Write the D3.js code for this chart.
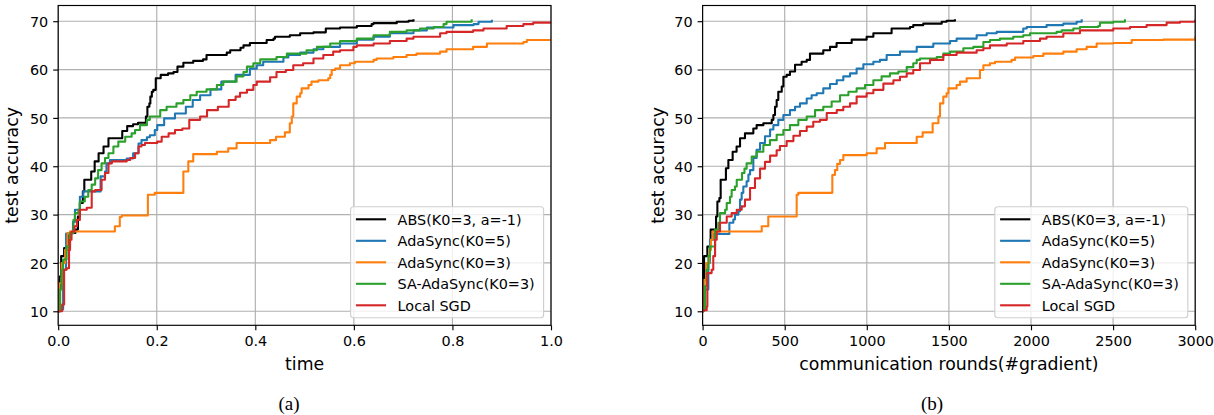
<!DOCTYPE html>
<html><head><meta charset="utf-8">
<script src="https://cdn.jsdelivr.net/npm/d3@7"></script>
<style>body{margin:0;background:#fff}svg{display:block}</style>
</head><body><svg id="c" width="1214" height="415" font-family="DejaVu Sans"></svg>
<script>
// ---------- data ----------
const seriesNames = ["ABS(K0=3, a=-1)","AdaSync(K0=5)","AdaSync(K0=3)","SA-AdaSync(K0=3)","Local SGD"];
const seriesColors = ["#000000","#1f77b4","#ff7f0e","#2ca02c","#d62728"];
const yTicks = [10,20,30,40,50,60,70];
const timeTicks = [0,0.2,0.4,0.6,0.8,1.0];
const roundTicks = [0,500,1000,1500,2000,2500,3000];

// (a) test accuracy vs time
const timeABS = [[0,10],[0.003,17.2],[0.006,21.4],[0.012,23.1],[0.02,26.2],[0.035,26.9],[0.04,29.6],[0.044,32.4],[0.05,34.8],[0.053,37.2],[0.067,38.9],[0.074,41.0],[0.082,42.7],[0.092,44.1],[0.102,45.8],[0.13,47.3],[0.14,48.3],[0.152,48.7],[0.162,49.0],[0.178,50.3],[0.181,52.3],[0.185,53.0],[0.187,54.4],[0.19,55.4],[0.193,55.8],[0.198,58.2],[0.208,58.9],[0.223,59.2],[0.234,59.5],[0.242,60.6],[0.254,61.4],[0.274,61.8],[0.294,62.1],[0.301,63.0],[0.342,63.5],[0.349,64.0],[0.37,64.5],[0.376,65.0],[0.389,65.5],[0.423,66.1],[0.437,66.4],[0.44,66.8],[0.47,67.1],[0.491,67.5],[0.518,67.7],[0.543,68.5],[0.572,68.7],[0.606,69.0],[0.636,69.4],[0.64,69.6],[0.687,69.9],[0.711,70.1],[0.721,70.2]];
const timeAda5 = [[0,10],[0.004,10.4],[0.01,18.6],[0.016,26.1],[0.03,28.5],[0.034,31.0],[0.044,33.7],[0.051,34.8],[0.086,37.9],[0.095,38.9],[0.098,40.6],[0.105,41.3],[0.139,41.6],[0.152,42.7],[0.163,44.7],[0.169,45.4],[0.18,46.0],[0.186,46.4],[0.196,47.5],[0.201,48.5],[0.215,49.9],[0.237,50.9],[0.259,52.3],[0.273,53.7],[0.288,54.7],[0.309,55.9],[0.331,57.5],[0.36,58.9],[0.389,60.2],[0.403,60.9],[0.416,61.6],[0.457,62.5],[0.467,63.0],[0.491,63.5],[0.518,64.2],[0.538,64.7],[0.572,65.4],[0.606,66.2],[0.64,66.8],[0.673,67.5],[0.721,68.1],[0.748,68.7],[0.802,69.2],[0.843,69.4],[0.853,69.9],[0.88,70.1]];
const timeAda3 = [[0,10],[0.002,15.8],[0.007,20.0],[0.014,22.7],[0.019,26.2],[0.024,26.5],[0.115,27.6],[0.125,29.5],[0.129,29.8],[0.182,34.1],[0.196,34.5],[0.254,38.9],[0.264,41.0],[0.274,42.5],[0.322,43.0],[0.345,43.7],[0.362,44.8],[0.43,45.4],[0.442,46.1],[0.46,47.0],[0.47,48.9],[0.474,50.3],[0.477,53.0],[0.484,54.4],[0.491,55.1],[0.494,56.1],[0.508,56.8],[0.514,57.5],[0.528,57.8],[0.548,58.2],[0.552,58.9],[0.555,59.9],[0.562,60.2],[0.572,60.9],[0.592,61.3],[0.602,61.6],[0.64,62.0],[0.646,62.3],[0.68,62.6],[0.707,63.0],[0.727,63.3],[0.775,63.7],[0.788,64.2],[0.842,64.7],[0.87,65.4],[0.944,65.7],[0.951,66.1],[1.0,66.2]];
const timeSA = [[0,10],[0.004,14.5],[0.007,18.6],[0.010,20.7],[0.017,23.4],[0.024,26.2],[0.031,28.9],[0.034,30.3],[0.041,31.0],[0.044,32.7],[0.054,33.7],[0.061,35.1],[0.068,36.2],[0.075,37.5],[0.081,39.2],[0.088,40.6],[0.095,41.7],[0.102,42.7],[0.112,44.1],[0.122,45.1],[0.136,46.1],[0.149,46.8],[0.156,47.5],[0.166,48.5],[0.18,49.6],[0.186,50.3],[0.207,51.6],[0.22,52.3],[0.24,53.0],[0.254,53.7],[0.268,54.7],[0.281,55.4],[0.301,55.9],[0.322,56.8],[0.335,57.5],[0.362,58.6],[0.376,59.5],[0.383,60.6],[0.396,61.3],[0.41,62.1],[0.443,62.6],[0.464,63.3],[0.504,64.0],[0.525,64.7],[0.552,65.4],[0.572,65.9],[0.606,66.4],[0.64,67.1],[0.673,67.8],[0.707,68.1],[0.734,68.5],[0.762,68.8],[0.782,69.4],[0.788,69.9],[0.839,70.2]];
const timeLocal = [[0,10],[0.004,10.0],[0.008,11.4],[0.012,18.6],[0.017,18.9],[0.022,22.7],[0.024,24.8],[0.027,26.5],[0.033,27.6],[0.038,28.9],[0.044,31.0],[0.058,31.4],[0.068,34.8],[0.075,35.1],[0.088,37.2],[0.095,38.6],[0.102,40.6],[0.109,41.0],[0.139,41.3],[0.146,41.7],[0.156,42.7],[0.163,44.1],[0.169,44.4],[0.176,44.8],[0.201,45.1],[0.21,46.1],[0.224,46.8],[0.237,47.5],[0.252,47.8],[0.266,49.6],[0.288,50.3],[0.302,51.6],[0.324,52.3],[0.346,53.7],[0.36,54.4],[0.369,55.2],[0.383,55.8],[0.396,56.8],[0.403,57.5],[0.43,58.4],[0.443,59.5],[0.462,59.9],[0.477,60.9],[0.497,61.3],[0.518,62.3],[0.538,63.0],[0.558,63.7],[0.572,64.0],[0.599,64.7],[0.606,65.0],[0.64,65.4],[0.673,65.9],[0.707,66.4],[0.721,66.8],[0.775,67.5],[0.788,67.8],[0.842,68.1],[0.863,68.5],[0.91,69.0],[0.944,69.4],[0.964,69.7],[1.0,69.8]];

// (b) test accuracy vs communication rounds
const roundABS = [[0,10],[5,10.5],[9,21.4],[29,23.4],[49,26.9],[82,29.6],[90,32.7],[102,33.4],[110,37.2],[142,39.6],[157,41.3],[183,43.0],[207,44.1],[228,45.8],[258,46.8],[309,47.8],[329,48.5],[370,48.9],[421,49.6],[431,50.6],[441,52.3],[451,53.7],[461,55.4],[482,56.5],[492,58.5],[512,58.9],[532,59.6],[563,61.0],[603,61.6],[634,62.0],[654,63.3],[735,64.0],[776,64.7],[816,65.5],[908,66.2],[999,66.8],[1040,67.5],[1151,68.5],[1263,68.8],[1283,69.2],[1344,69.5],[1456,69.9],[1486,70.1],[1537,70.2]];
const roundAda5 = [[0,10],[5,10.5],[15,14.5],[35,20.0],[45,24.8],[65,26.0],[163,28.3],[187,29.0],[197,30.0],[218,30.7],[228,33.1],[238,34.5],[248,35.8],[268,36.9],[279,38.3],[289,39.2],[309,41.7],[329,43.4],[350,44.8],[380,46.2],[411,47.6],[431,48.5],[461,49.6],[492,50.6],[532,51.6],[563,52.3],[593,53.0],[634,54.0],[664,54.7],[695,55.1],[735,56.1],[776,57.0],[817,57.8],[857,58.6],[898,59.2],[938,60.2],[979,61.1],[1040,61.6],[1080,62.0],[1121,63.0],[1202,63.7],[1304,64.7],[1405,65.4],[1507,65.9],[1547,66.4],[1669,67.1],[1730,67.5],[1791,67.8],[1953,68.5],[1974,68.8],[2095,69.2],[2197,69.5],[2278,69.9],[2309,70.2]];
const roundAda3 = [[0,10],[5,10.5],[11,16.5],[21,20.0],[41,22.7],[51,24.8],[61,26.5],[360,27.6],[400,29.6],[573,34.1],[583,34.5],[790,38.2],[806,39.2],[820,40.5],[837,41.3],[857,42.3],[999,42.7],[1060,43.7],[1111,44.8],[1304,46.1],[1340,47.0],[1401,48.9],[1436,50.3],[1446,53.0],[1466,54.4],[1486,55.1],[1497,56.1],[1547,56.8],[1568,57.5],[1608,58.2],[1689,59.9],[1710,60.9],[1750,61.3],[1781,61.6],[1882,62.0],[1903,62.5],[2014,62.8],[2075,63.3],[2197,63.7],[2278,64.2],[2339,64.7],[2400,65.4],[2501,65.5],[2613,66.1],[2806,66.2],[3000,66.6]];
const roundSA = [[0,10],[5,10.5],[15,15.2],[25,18.6],[35,21.4],[45,23.4],[76,26.9],[96,28.3],[106,30.3],[137,31.0],[147,32.4],[167,33.7],[177,35.1],[197,35.8],[208,37.2],[240,38.6],[255,39.5],[268,40.6],[299,42.0],[329,43.0],[370,44.4],[410,45.4],[451,46.5],[492,47.5],[532,48.5],[583,49.6],[634,50.3],[685,51.6],[735,52.3],[786,53.4],[837,54.7],[888,55.4],[938,56.1],[989,56.8],[1040,57.8],[1090,58.6],[1141,59.2],[1192,59.6],[1243,60.5],[1283,61.3],[1304,62.0],[1324,62.3],[1426,62.6],[1466,63.3],[1507,63.7],[1588,64.4],[1649,64.7],[1710,65.7],[1750,66.1],[1811,66.4],[1892,66.8],[1953,67.1],[1994,67.5],[2156,67.8],[2187,68.1],[2258,68.5],[2298,68.8],[2410,69.0],[2420,69.7],[2501,69.9],[2572,70.2]];
const roundLocal = [[0,10],[5,10.2],[25,11.0],[29,17.9],[55,18.6],[65,21.4],[76,24.8],[86,26.5],[106,28.3],[147,29.6],[177,30.3],[208,31.0],[238,31.7],[258,33.1],[289,35.5],[319,37.5],[350,39.5],[380,40.9],[411,42.2],[451,43.3],[471,44.2],[512,45.2],[553,46.3],[593,47.3],[634,48.2],[674,49.2],[715,49.6],[756,51.0],[817,51.6],[857,52.3],[898,53.0],[938,54.4],[999,55.1],[1040,55.8],[1101,57.1],[1162,57.8],[1202,58.5],[1243,59.2],[1283,59.9],[1324,61.3],[1385,62.0],[1466,63.0],[1547,63.5],[1669,64.0],[1710,64.4],[1750,65.0],[1852,65.4],[1953,65.9],[2055,66.4],[2095,66.8],[2197,67.5],[2298,68.1],[2501,68.5],[2603,68.8],[2704,69.2],[2826,69.7],[2907,69.9],[3000,70.1]];

// ---------- drawing ----------
const svg = d3.select("#c");
const plotTop = 5.5, plotBottom = 325.3;
const font = 14.4;

function panel(id, left, right, xDomain, xTicks, xFmt, xLabel, caption, captionX, labelX, series) {
  const x = d3.scaleLinear().domain(xDomain).range([left, right]);
  const y = d3.scaleLinear().domain([7.1, 73.25]).range([plotBottom, plotTop]);
  const g = svg.append("g");
  g.append("clipPath").attr("id", "clip" + id).append("rect")
    .attr("x", left).attr("y", plotTop).attr("width", right - left).attr("height", plotBottom - plotTop);
  g.selectAll(".gx").data(xTicks).enter().append("line")
    .attr("x1", d => x(d)).attr("x2", d => x(d)).attr("y1", plotTop).attr("y2", plotBottom)
    .attr("stroke", "#b0b0b0").attr("stroke-width", 1.15);
  g.selectAll(".gy").data(yTicks).enter().append("line")
    .attr("y1", d => y(d)).attr("y2", d => y(d)).attr("x1", left).attr("x2", right)
    .attr("stroke", "#b0b0b0").attr("stroke-width", 1.15);
  const line = d3.line().x(d => x(d[0])).y(d => y(d[1])).curve(d3.curveStepAfter);
  const lg = g.append("g").attr("clip-path", `url(#clip${id})`);
  series.forEach((s, i) => {
    lg.append("path").datum(s).attr("d", line).attr("fill", "none")
      .attr("stroke", seriesColors[i]).attr("stroke-width", 2.1)
      .attr("stroke-linejoin", "round").attr("stroke-linecap", "square");
  });
  const xa = g.append("g").attr("transform", `translate(0,${plotBottom})`)
    .call(d3.axisBottom(x).tickValues(xTicks).tickFormat(xFmt).tickSize(5).tickPadding(5).tickSizeOuter(0));
  const ya = g.append("g").attr("transform", `translate(${left},0)`)
    .call(d3.axisLeft(y).tickValues(yTicks).tickSize(5).tickPadding(5).tickSizeOuter(0));
  [xa, ya].forEach(a => {
    a.select(".domain").remove();
    a.selectAll("line").attr("stroke", "#000").attr("stroke-width", 1.15);
    a.selectAll("text").attr("font-family", "DejaVu Sans").attr("font-size", font).attr("fill", "#000");
  });
  ya.selectAll("text").attr("dy", "0.36em");
  g.append("rect").attr("x", left).attr("y", plotTop).attr("width", right - left).attr("height", plotBottom - plotTop)
    .attr("fill", "none").attr("stroke", "#000").attr("stroke-width", 1.15);
  g.append("text").attr("x", (left + right) / 2).attr("y", 370).attr("text-anchor", "middle")
    .attr("font-size", 17.3).text(xLabel);
  g.append("text").attr("transform", `translate(${labelX},${(plotTop + plotBottom) / 2}) rotate(-90)`)
    .attr("text-anchor", "middle").attr("font-size", 17.3).text("test accuracy");
  g.append("text").attr("x", captionX).attr("y", 410).attr("text-anchor", "middle")
    .attr("font-family", "Liberation Serif").attr("font-size", 19).text(caption);
  const bx = right - 7.4 - 193, by = 206.7, bw = 193, bh = 111;
  const leg = g.append("g");
  leg.append("rect").attr("x", bx).attr("y", by).attr("width", bw).attr("height", bh)
    .attr("rx", 3).attr("fill", "#fff").attr("fill-opacity", 0.8).attr("stroke", "#d0d0d0").attr("stroke-width", 1.15);
  seriesNames.forEach((n, i) => {
    const cy = 219.3 + i * 21.5;
    leg.append("line").attr("x1", bx + 5.3).attr("x2", bx + 35.5).attr("y1", cy).attr("y2", cy)
      .attr("stroke", seriesColors[i]).attr("stroke-width", 2.1);
    leg.append("text").attr("x", bx + 47).attr("y", cy + 5.2).attr("font-size", font).text(n);
  });
}

panel("a", 58.2, 551.0, [0, 1], timeTicks, d3.format(".1f"), "time", "(a)", 289, 18,
  [timeABS, timeAda5, timeAda3, timeSA, timeLocal]);
panel("b", 702.6, 1195.2, [0, 3000], roundTicks, d3.format("d"), "communication rounds(#gradient)", "(b)", 932, 663.5,
  [roundABS, roundAda5, roundAda3, roundSA, roundLocal]);
</script></body></html>
